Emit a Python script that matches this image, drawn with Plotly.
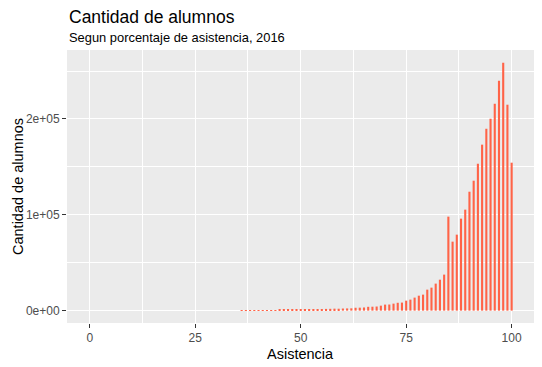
import plotly.graph_objects as go

asistencia = list(range(36, 101))
alumnos = [
    350, 420, 380, 460, 520, 480, 560, 610, 590, 680,
    720, 700, 780, 860, 900, 950, 1020, 1080, 1150, 1300,
    1800, 1900, 2050, 2000, 2200, 2300, 2400, 3000, 3100, 3300,
    4000, 4100, 4300, 5200, 6300, 6400, 7300, 8200, 8400, 10400,
    11500, 13600, 15600, 16700, 21900, 24000, 28200, 32300, 37600, 98100,
    72000, 79300, 96000, 105400, 124100, 135600, 153300, 173200, 189800, 200300,
    215900, 239900, 258700, 214900, 154400,
]

x_ticks = [0, 25, 50, 75, 100]
y_ticks = [0, 100000, 200000]
y_tick_labels = ["0e+00", "1e+05", "2e+05"]

title_text = "Cantidad de alumnos"
subtitle_text = "Segun porcentaje de asistencia, 2016"
x_title = "Asistencia"
y_title = "Cantidad de alumnos"

FONT = "Liberation Sans, Arial, sans-serif"
# page body has an 8px margin, so the figure is 8px smaller and offset
OFF = 8
W, H = 542 - OFF, 367 - OFF
ML, MR, MT, MB = 67 - OFF, 8, 50 - OFF, 44
PW, PH = W - ML - MR, H - MT - MB


def px_y(y):
    return (H - MB - (y - OFF)) / PH


def px_x(x):
    return ((x - OFF) - ML) / PW


fig = go.Figure(
    go.Bar(
        x=asistencia,
        y=alumnos,
        width=0.5,
        marker=dict(color="#FF6347", line=dict(width=0)),
    )
)

fig.update_layout(
    width=W,
    height=H,
    margin=dict(l=ML, r=MR, t=MT, b=MB, autoexpand=False),
    paper_bgcolor="white",
    plot_bgcolor="#EBEBEB",
    showlegend=False,
    font=dict(family=FONT, color="black"),
    annotations=[
        dict(text=title_text, x=0, y=px_y(16.5), xref="paper", yref="paper",
             xanchor="left", yanchor="middle", showarrow=False,
             font=dict(size=17.5, color="black", family=FONT), align="left"),
        dict(text=subtitle_text, x=0, y=px_y(37.5), xref="paper", yref="paper",
             xanchor="left", yanchor="middle", showarrow=False,
             font=dict(size=12.9, color="black", family=FONT), align="left"),
        dict(text=x_title, x=0.5, y=px_y(354), xref="paper", yref="paper",
             xanchor="center", yanchor="middle", showarrow=False,
             font=dict(size=14.5, color="black", family=FONT)),
        dict(text=y_title, x=px_x(18), y=px_y(187), xref="paper", yref="paper",
             xanchor="center", yanchor="middle", showarrow=False, textangle=-90,
             font=dict(size=14.5, color="black", family=FONT)),
    ],
)

fig.update_xaxes(
    range=[-5.4, 105.3],
    automargin=False,
    tickvals=x_ticks,
    ticktext=[str(v) for v in x_ticks],
    showgrid=True, gridcolor="white", gridwidth=1.1,
    minor=dict(dtick=12.5, tick0=12.5, showgrid=True, gridcolor="white", gridwidth=0.5, ticks=""),
    ticks="outside", ticklen=4, tickcolor="#333333", tickwidth=1,
    tickfont=dict(size=12, color="#4D4D4D", family=FONT),
    zeroline=False, showline=False,
)

fig.update_yaxes(
    range=[-12900, 272000],
    automargin=False,
    tickvals=y_ticks,
    ticktext=y_tick_labels,
    showgrid=True, gridcolor="white", gridwidth=1.1,
    minor=dict(tickvals=[50000, 150000, 250000], showgrid=True, gridcolor="white", gridwidth=0.5, ticks=""),
    ticks="outside", ticklen=4, tickcolor="#333333", tickwidth=1,
    tickfont=dict(size=12, color="#4D4D4D", family=FONT),
    zeroline=False, showline=False,
)

fig.write_html("out.html")
